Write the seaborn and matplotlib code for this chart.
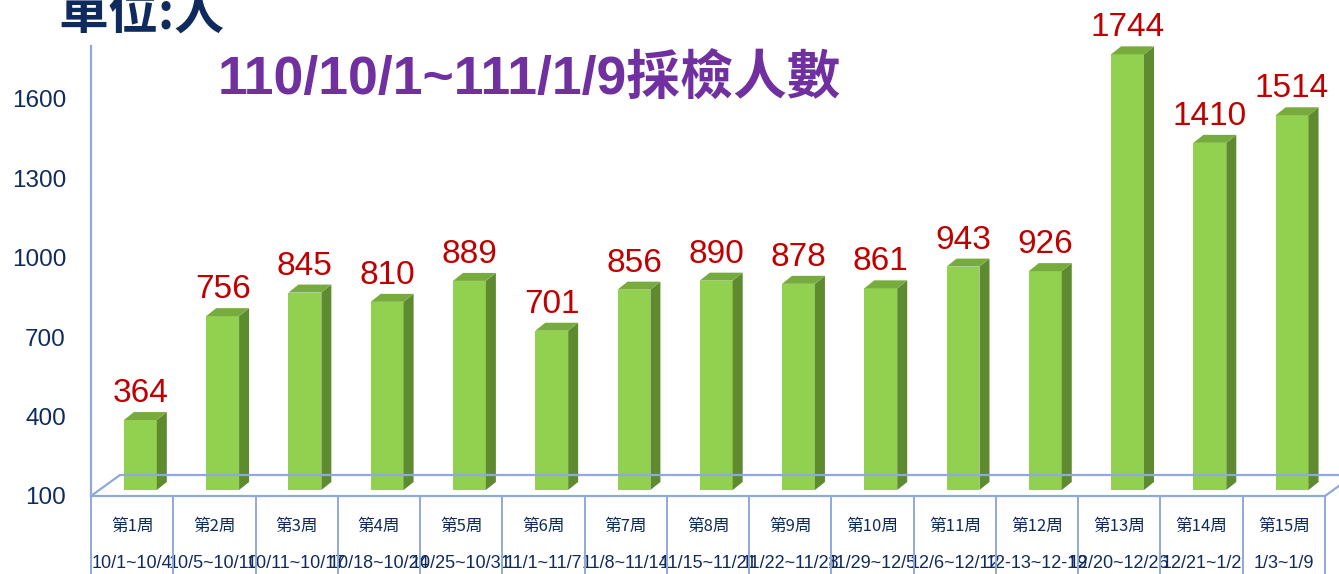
import matplotlib
matplotlib.use("Agg")
import matplotlib.pyplot as plt
import seaborn as sns
from matplotlib.patches import Polygon
from matplotlib.lines import Line2D
from matplotlib.transforms import IdentityTransform, blended_transform_factory

# data
weeks = ["第%d周" % i for i in range(1, 16)]
dates = ["10/1~10/4", "10/5~10/10", "10/11~10/17", "10/18~10/24", "10/25~10/31",
         "11/1~11/7", "11/8~11/14", "11/15~11/21", "11/22~11/28", "11/29~12/5",
         "12/6~12/12", "12-13~12-19", "12/20~12/26", "12/21~1/2", "1/3~1/9"]
counts = [364, 756, 845, 810, 889, 701, 856, 890, 878, 861, 943, 926, 1744, 1410, 1514]
yticks = [100, 400, 700, 1000, 1300, 1600]

NAVY = "#0F2B5E"
AXIS = "#8EA9DB"
FRONT = "#92D050"
SIDE = "#5E8A30"
TOP = "#78AB3E"

sns.set_style("white")
plt.rcParams["font.family"] = ["Liberation Sans", "Noto Sans CJK TC"]

W, H = 1339, 574
fig = plt.figure(figsize=(W / 100, H / 100), dpi=100)
ax = fig.add_axes([91 / W, 78 / H, (1325 - 91) / W, 450.5 / H])

sns.barplot(x=weeks, y=counts, color=FRONT, saturation=1, width=0.4, ax=ax,
            linewidth=0, zorder=3)
ax.set_xlim(-0.5, len(weeks) - 0.5)
ax.set_ylim(100, 1800)
ax.set_yticks(yticks)
ax.set_xlabel("")
ax.set_ylabel("")

for s in ["top", "right"]:
    ax.spines[s].set_visible(False)
for s in ["left", "bottom"]:
    ax.spines[s].set_color(AXIS)
    ax.spines[s].set_linewidth(1.6)

ax.tick_params(axis="y", length=6, width=1.2, color=AXIS, pad=12,
               labelsize=17.5, labelcolor=NAVY)
ax.tick_params(axis="x", length=0, pad=16, labelsize=12, labelcolor=NAVY)
for t in ax.get_xticklabels():
    t.set_fontfamily(["Noto Sans CJK TC"])

# pseudo 3D bars, built from the seaborn patches
pix = IdentityTransform()
DX, DY = 10, 8      # depth of a bar
LIFT = 6            # bars sit a little behind the front floor edge
for p, v in zip(ax.patches, counts):
    p.set_x(p.get_x() + 0.1)
    p.set_y(100)
    p.set_height(v - 100)
    x0, y0 = ax.transData.transform((p.get_x(), 100))
    x1, y1 = ax.transData.transform((p.get_x() + p.get_width(), v))
    y0 += LIFT
    y1 += LIFT
    p.set_visible(False)
    ax.add_patch(Polygon([(x0, y0), (x1, y0), (x1, y1), (x0, y1)], closed=True,
                         transform=pix, facecolor=FRONT, edgecolor="none", zorder=3))
    ax.add_patch(Polygon([(x1, y0), (x1 + DX, y0 + DY), (x1 + DX, y1 + DY), (x1, y1)],
                         closed=True, transform=pix, facecolor=SIDE,
                         edgecolor="none", zorder=3))
    ax.add_patch(Polygon([(x0, y1), (x1, y1), (x1 + DX, y1 + DY), (x0 + DX, y1 + DY)],
                         closed=True, transform=pix, facecolor=TOP,
                         edgecolor="none", zorder=3))
    ax.text((x0 + x1) / 2, y1 + DY + 10, str(v), transform=pix, ha="center",
            va="baseline", fontsize=24, color="#C00000", zorder=4)

# floor of the 3D box
fx0, fy0 = ax.transData.transform((-0.5, 100))
fx1, _ = ax.transData.transform((len(weeks) - 0.5, 100))
FX, FY = 29, 21
for xs, ys in [([fx0, fx0 + FX], [fy0, fy0 + FY]),
               ([fx0 + FX, W], [fy0 + FY, fy0 + FY]),
               ([fx1, fx1 + FX], [fy0, fy0 + FY])]:
    fig.add_artist(Line2D(xs, ys, transform=pix, color=AXIS, lw=1.6, zorder=1))

# table-like separators and date row under the axis
below = blended_transform_factory(ax.transData, pix)
for i in range(len(weeks) + 1):
    fig.add_artist(Line2D([i - 0.5, i - 0.5], [fy0, 0], transform=below,
                          color=AXIS, lw=1.4))
for i, d in enumerate(dates):
    ax.text(i, fy0 - 67, d, transform=below, ha="center", va="center",
            fontsize=13, color=NAVY, clip_on=False)

fig.text(58 / W, 1 - 14 / H, "單位:人", ha="left", va="center", fontsize=36,
         fontweight="bold", color=NAVY, family=["Noto Sans CJK TC"])
fig.text(218 / W, 1 - 80 / H, "110/10/1~111/1/9採檢人數", ha="left", va="center",
         fontsize=38.5, fontweight="bold", color="#7030A0")

fig.savefig("out.png", dpi=100)
